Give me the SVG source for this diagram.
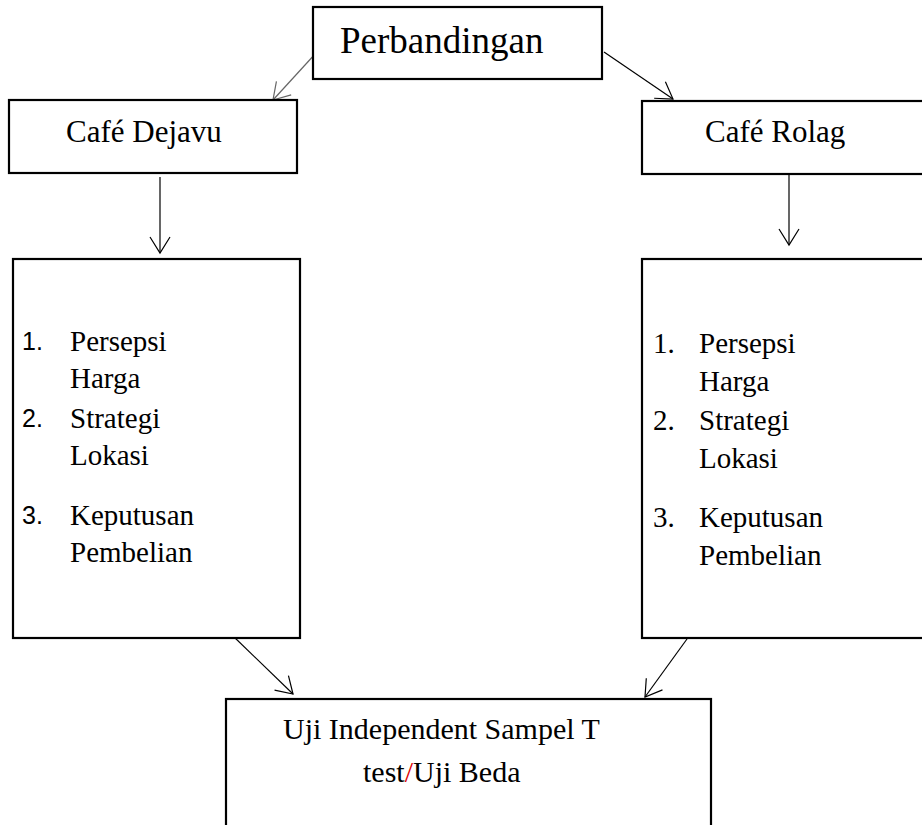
<svg xmlns="http://www.w3.org/2000/svg" width="922" height="825" viewBox="0 0 922 825">
<defs>
<style>
.box{fill:#fff;stroke:#000;stroke-width:2.2}
.t{font-family:"Liberation Serif","Times New Roman",serif;fill:#000}
.n{font-family:"Liberation Sans",Arial,sans-serif;fill:#000}
.c{fill:none;stroke:#000;stroke-width:1.2}
</style>
<marker id="ah" markerUnits="userSpaceOnUse" markerWidth="24" markerHeight="24" viewBox="-18 -12 20 24" refX="0" refY="0" orient="auto">
<path d="M-16,-10 L0,0 L-16,10" fill="none" stroke="#000" stroke-width="1.2"/>
</marker>
<marker id="ahg" markerUnits="userSpaceOnUse" markerWidth="24" markerHeight="24" viewBox="-18 -12 20 24" refX="0" refY="0" orient="auto">
<path d="M-16,-10 L0,0 L-16,10" fill="none" stroke="#666" stroke-width="1.2"/>
</marker>
</defs>
<rect width="922" height="825" fill="#fff"/>
<g id="connectors">
<line class="c" x1="316" y1="53" x2="273" y2="100" style="stroke:#666" marker-end="url(#ahg)"/>
<line class="c" x1="604" y1="52" x2="673" y2="99" marker-end="url(#ah)"/>
<line class="c" x1="160" y1="177" x2="160" y2="253" marker-end="url(#ah)"/>
<line class="c" x1="789" y1="170" x2="789" y2="245" marker-end="url(#ah)"/>
<line class="c" x1="232" y1="635" x2="293" y2="694" marker-end="url(#ah)"/>
<line class="c" x1="687" y1="639" x2="645" y2="697" marker-end="url(#ah)"/>
</g>
<g id="perbandingan">
<rect class="box" x="313" y="7" width="289" height="72"/>
<text class="t" x="340" y="53" font-size="37">Perbandingan</text>
</g>
<g id="cafe-dejavu">
<rect class="box" x="9" y="100" width="288" height="73"/>
<text class="t" x="66" y="142" font-size="31">Café Dejavu</text>
</g>
<g id="cafe-rolag">
<rect class="box" x="642" y="101" width="290" height="73"/>
<text class="t" x="705" y="142" font-size="31">Café Rolag</text>
</g>
<g id="list-dejavu">
<rect class="box" x="13" y="259" width="287" height="379"/>
<text class="n" x="22" y="350" font-size="25">1.</text>
<text class="t" x="70" y="351" font-size="29">Persepsi</text>
<text class="t" x="70" y="388" font-size="29">Harga</text>
<text class="n" x="22" y="427" font-size="25">2.</text>
<text class="t" x="70" y="428" font-size="29">Strategi</text>
<text class="t" x="70" y="465" font-size="29">Lokasi</text>
<text class="n" x="22" y="524" font-size="25">3.</text>
<text class="t" x="70" y="525" font-size="29">Keputusan</text>
<text class="t" x="70" y="562" font-size="29">Pembelian</text>
</g>
<g id="list-rolag">
<rect class="box" x="642" y="259" width="290" height="379"/>
<text class="t" x="653" y="353" font-size="29">1.</text>
<text class="t" x="699" y="353" font-size="29">Persepsi</text>
<text class="t" x="699" y="391" font-size="29">Harga</text>
<text class="t" x="653" y="430" font-size="29">2.</text>
<text class="t" x="699" y="430" font-size="29">Strategi</text>
<text class="t" x="699" y="468" font-size="29">Lokasi</text>
<text class="t" x="653" y="527" font-size="29">3.</text>
<text class="t" x="699" y="527" font-size="29">Keputusan</text>
<text class="t" x="699" y="565" font-size="29">Pembelian</text>
</g>
<g id="uji">
<rect class="box" x="226" y="699" width="485" height="140"/>
<text class="t" x="283" y="739" font-size="30">Uji Independent Sampel T</text>
<text class="t" x="363" y="782" font-size="30">test<tspan fill="#e00000">/</tspan>Uji Beda</text>
</g>
</svg>
